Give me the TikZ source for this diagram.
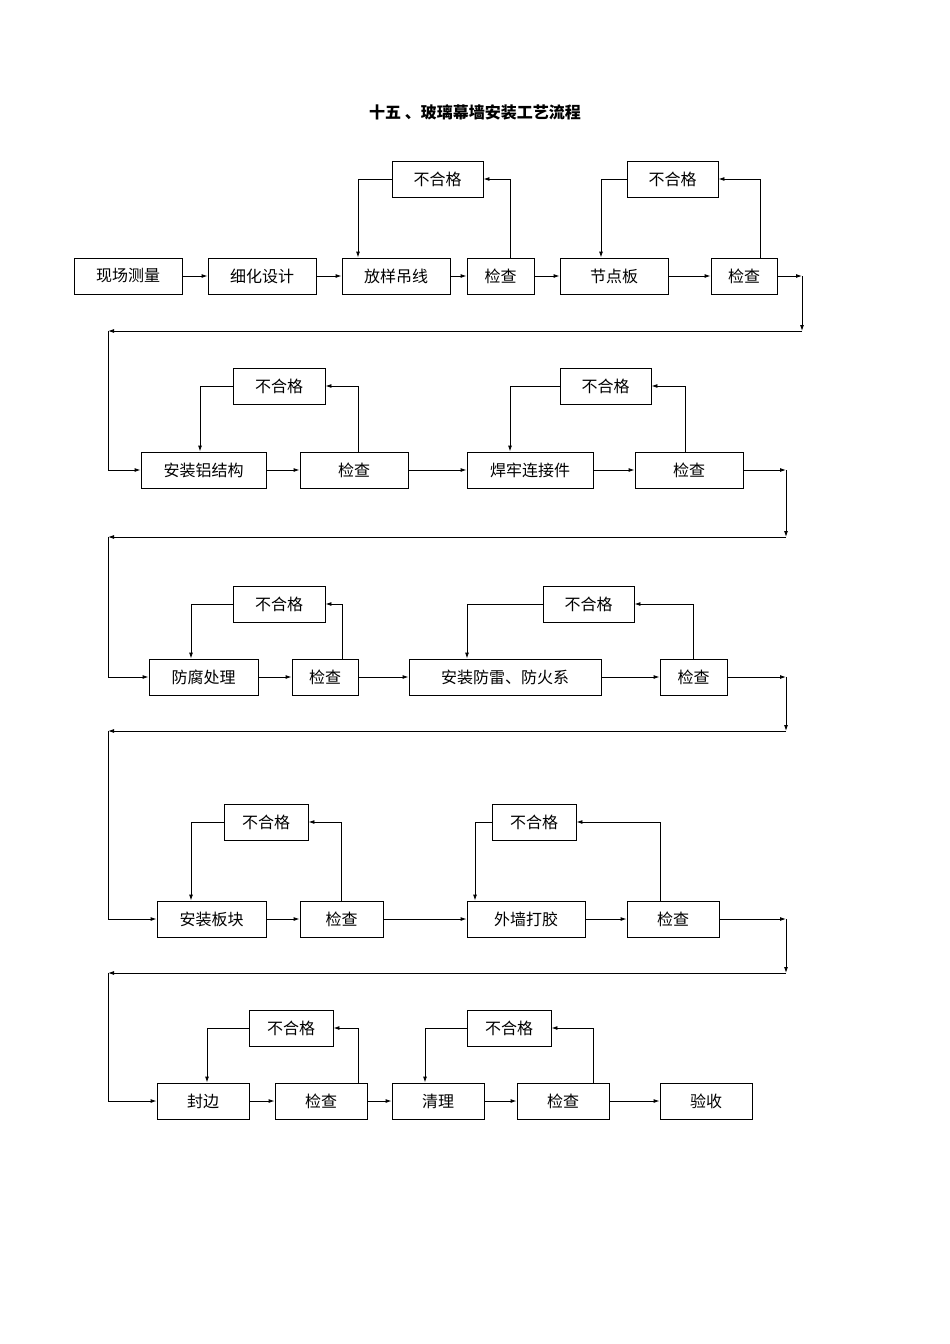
\documentclass[tikz,border=0pt]{standalone}
\usepackage{fontspec}
\newfontfamily\cjk{Noto Sans CJK SC}
\usetikzlibrary{arrows.meta}
\begin{document}
\begin{tikzpicture}[x=1pt,y=-1pt,
  box/.style={draw,line width=0.9pt,minimum height=36pt,inner sep=0pt,font=\cjk\fontsize{16}{18}\selectfont},
  arr/.style={line width=0.9pt,-{Latex[length=6pt,width=4pt]}},
  ln/.style={line width=0.9pt}]
\useasboundingbox (0,0) rectangle (950,1344);
\node[font=\cjk\bfseries\fontsize{16}{18}\selectfont] (title) at (475,112) {十五 、玻璃幕墙安装工艺流程};
% row 1
\node[box,minimum width=108pt] (a1) at (128,276) {现场测量};
\node[box,minimum width=108pt] (a2) at (262,276) {细化设计};
\node[box,minimum width=108pt] (a3) at (396,276) {放样吊线};
\node[box,minimum width=67pt] (a4) at (500.5,276) {检查};
\node[box,minimum width=108pt] (a5) at (614,276) {节点板};
\node[box,minimum width=66pt] (a6) at (744,276) {检查};
\node[box,minimum width=91pt] (f11) at (437.5,179) {不合格};
\node[box,minimum width=91pt] (f12) at (672.5,179) {不合格};
\foreach \p/\q in {a1/a2,a2/a3,a3/a4,a4/a5,a5/a6} \draw[arr] (\p) -- (\q);
\draw[arr] (f11.west) -| ([xshift=-38pt]a3.north);
\draw[arr] ([xshift=9.5pt]a4.north) |- (f11.east);
\draw[arr] (f12.west) -| ([xshift=-13pt]a5.north);
\draw[arr] ([xshift=16pt]a6.north) |- (f12.east);
\coordinate (k11) at (802,276); \coordinate (k12) at (802,331); \coordinate (k13) at (108,331);
% row 2
\node[box,minimum width=125pt] (b1) at (203.5,470) {安装铝结构};
\node[box,minimum width=108pt] (b2) at (354,470) {检查};
\node[box,minimum width=126pt] (b3) at (530,470) {焊牢连接件};
\node[box,minimum width=108pt] (b4) at (689,470) {检查};
\node[box,minimum width=92pt] (f21) at (279,386) {不合格};
\node[box,minimum width=91pt] (f22) at (605.5,386) {不合格};
\draw[arr] (a6.east) -- (k11); \draw[arr] (k11) -- (k12); \draw[arr] (k12) -- (k13); \draw[arr] (k13) |- (b1.west);
\foreach \p/\q in {b1/b2,b2/b3,b3/b4} \draw[arr] (\p) -- (\q);
\draw[arr] (f21.west) -| ([xshift=-3.5pt]b1.north);
\draw[arr] ([xshift=4pt]b2.north) |- (f21.east);
\draw[arr] (f22.west) -| ([xshift=-20pt]b3.north);
\draw[arr] ([xshift=-4pt]b4.north) |- (f22.east);
\coordinate (k21) at (786,470); \coordinate (k22) at (786,537); \coordinate (k23) at (108,537);
% row 3
\node[box,minimum width=109pt] (c1) at (203.5,677) {防腐处理};
\node[box,minimum width=66pt] (c2) at (325,677) {检查};
\node[box,minimum width=192pt] (c3) at (505,677) {安装防雷、防火系};
\node[box,minimum width=67pt] (c4) at (693.5,677) {检查};
\node[box,minimum width=92pt] (f31) at (279,604) {不合格};
\node[box,minimum width=91pt] (f32) at (588.5,604) {不合格};
\draw[arr] (b4.east) -- (k21); \draw[arr] (k21) -- (k22); \draw[arr] (k22) -- (k23); \draw[arr] (k23) |- (c1.west);
\foreach \p/\q in {c1/c2,c2/c3,c3/c4} \draw[arr] (\p) -- (\q);
\draw[arr] (f31.west) -| ([xshift=-12.5pt]c1.north);
\draw[arr] ([xshift=17pt]c2.north) |- (f31.east);
\draw[arr] (f32.west) -| ([xshift=-38pt]c3.north);
\draw[arr] (c4.north) |- (f32.east);
\coordinate (k31) at (786,677); \coordinate (k32) at (786,731); \coordinate (k33) at (108,731);
% row 4
\node[box,minimum width=109pt] (d1) at (211.5,919) {安装板块};
\node[box,minimum width=83pt] (d2) at (341.5,919) {检查};
\node[box,minimum width=118pt] (d3) at (526,919) {外墙打胶};
\node[box,minimum width=92pt] (d4) at (673,919) {检查};
\node[box,minimum width=84pt] (f41) at (266,822) {不合格};
\node[box,minimum width=84pt] (f42) at (534,822) {不合格};
\draw[arr] (c4.east) -- (k31); \draw[arr] (k31) -- (k32); \draw[arr] (k32) -- (k33); \draw[arr] (k33) |- (d1.west);
\foreach \p/\q in {d1/d2,d2/d3,d3/d4} \draw[arr] (\p) -- (\q);
\draw[arr] (f41.west) -| ([xshift=-20.5pt]d1.north);
\draw[arr] (d2.north) |- (f41.east);
\draw[arr] (f42.west) -| ([xshift=-51pt]d3.north);
\draw[arr] ([xshift=-13pt]d4.north) |- (f42.east);
\coordinate (k41) at (786,919); \coordinate (k42) at (786,973); \coordinate (k43) at (108,973);
% row 5
\node[box,minimum width=92pt] (e1) at (203,1101) {封边};
\node[box,minimum width=92pt] (e2) at (321,1101) {检查};
\node[box,minimum width=92pt] (e3) at (438,1101) {清理};
\node[box,minimum width=92pt] (e4) at (563,1101) {检查};
\node[box,minimum width=92pt] (e5) at (706,1101) {验收};
\node[box,minimum width=84pt] (f51) at (291,1028) {不合格};
\node[box,minimum width=84pt] (f52) at (509,1028) {不合格};
\draw[arr] (d4.east) -- (k41); \draw[arr] (k41) -- (k42); \draw[arr] (k42) -- (k43); \draw[arr] (k43) |- (e1.west);
\foreach \p/\q in {e1/e2,e2/e3,e3/e4,e4/e5} \draw[arr] (\p) -- (\q);
\draw[arr] (f51.west) -| ([xshift=4pt]e1.north);
\draw[arr] ([xshift=37pt]e2.north) |- (f51.east);
\draw[arr] (f52.west) -| ([xshift=-13pt]e3.north);
\draw[arr] ([xshift=30pt]e4.north) |- (f52.east);
\end{tikzpicture}
\end{document}
